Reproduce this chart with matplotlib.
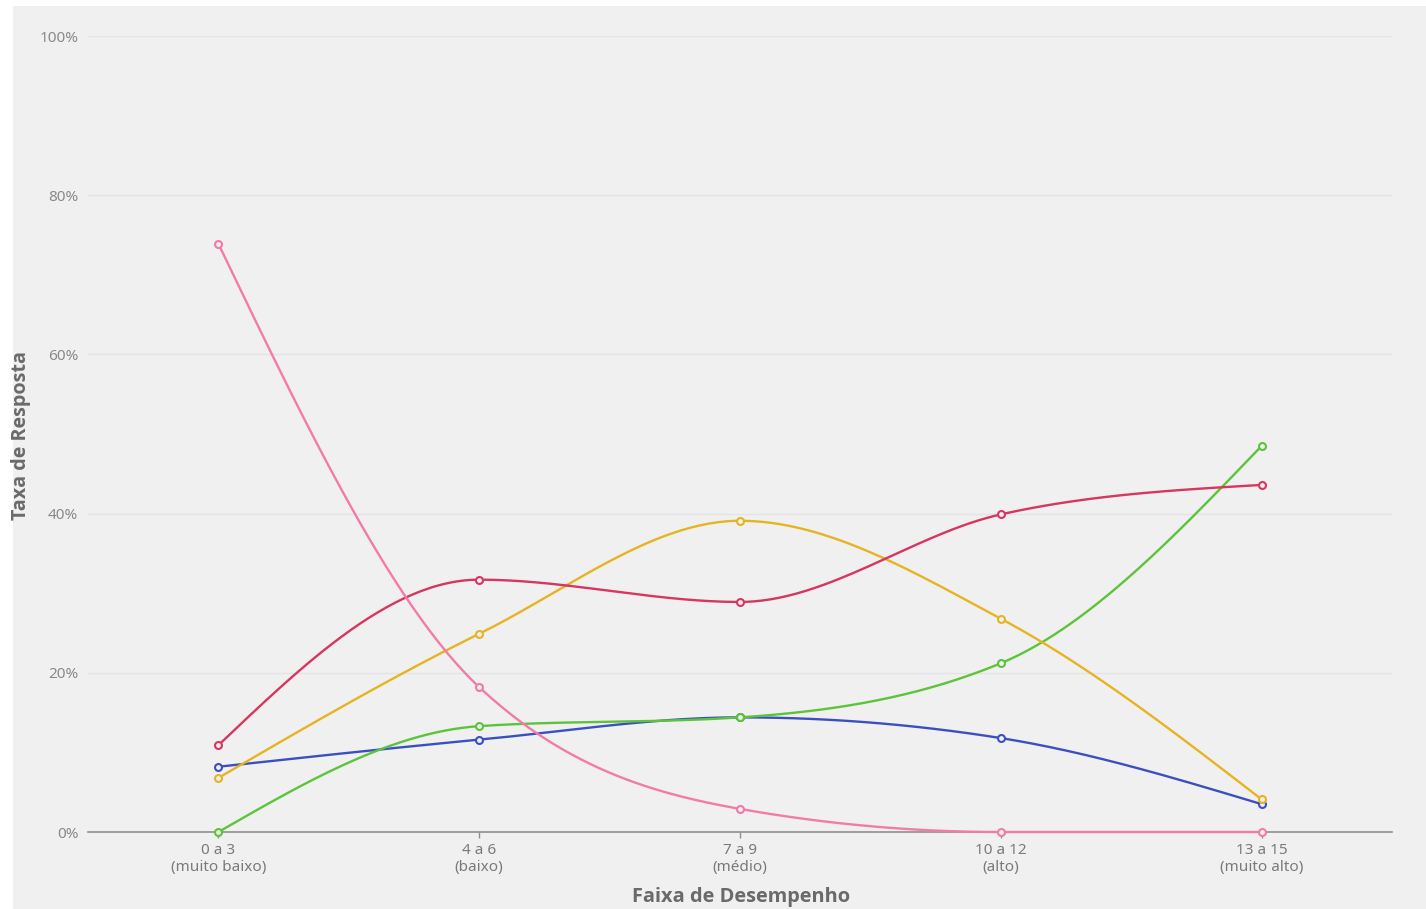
import numpy as np
import matplotlib
matplotlib.use("Agg")
import matplotlib.pyplot as plt
from matplotlib.patches import Rectangle

# Performance bands and response rates (%) per answer option
categories = ["0 a 3\n(muito baixo)", "4 a 6\n(baixo)", "7 a 9\n(médio)",
              "10 a 12\n(alto)", "13 a 15\n(muito alto)"]
pink = [73.9, 18.2, 2.9, 0.0, 0.0]
red = [10.9, 31.7, 28.9, 39.9, 43.6]
yellow = [6.8, 24.9, 39.1, 26.8, 4.1]
green = [0.0, 13.3, 14.4, 21.2, 48.5]
blue = [8.2, 11.6, 14.4, 11.8, 3.5]

y_ticks = [0, 20, 40, 60, 80, 100]

series = [
    (blue, "#3b50c0"),
    (green, "#5cc43a"),
    (yellow, "#e6b422"),
    (red, "#d6365f"),
    (pink, "#f27ba8"),
]


def monotone_curve(x, y, n=60):
    """Monotone cubic interpolation (Fritsch-Carlson style, as in d3.curveMonotoneX)."""
    x = np.asarray(x, float)
    y = np.asarray(y, float)
    m = len(x)
    h = np.diff(x)
    s = np.diff(y) / h
    t = np.zeros(m)
    for i in range(1, m - 1):
        s0, s1 = s[i - 1], s[i]
        p = (s0 * h[i] + s1 * h[i - 1]) / (h[i - 1] + h[i])
        t[i] = (np.sign(s0) + np.sign(s1)) * min(abs(s0), abs(s1), 0.5 * abs(p))
    t[0] = (3 * s[0] - t[1]) / 2
    t[-1] = (3 * s[-1] - t[-2]) / 2
    xs, ys = [], []
    for i in range(m - 1):
        dx = h[i] / 3
        p0 = (x[i], y[i])
        p1 = (x[i] + dx, y[i] + dx * t[i])
        p2 = (x[i + 1] - dx, y[i + 1] - dx * t[i + 1])
        p3 = (x[i + 1], y[i + 1])
        u = np.linspace(0, 1, n)
        bx = ((1 - u) ** 3 * p0[0] + 3 * (1 - u) ** 2 * u * p1[0]
              + 3 * (1 - u) * u ** 2 * p2[0] + u ** 3 * p3[0])
        by = ((1 - u) ** 3 * p0[1] + 3 * (1 - u) ** 2 * u * p1[1]
              + 3 * (1 - u) * u ** 2 * p2[1] + u ** 3 * p3[1])
        xs.append(bx)
        ys.append(by)
    return np.concatenate(xs), np.concatenate(ys)


plt.rcParams["font.family"] = ["Noto Sans", "DejaVu Sans"]
title_font = ["Open Sans", "DejaVu Sans"]

W, H = 1426, 909
fig = plt.figure(figsize=(W / 100, H / 100), dpi=100, facecolor="white")
bg = "#f0f0f0"
fig.patches.append(Rectangle((13 / W, 0), 1 - 13 / W, (H - 6) / H,
                             transform=fig.transFigure, facecolor=bg,
                             edgecolor="none", zorder=-10))

ax = fig.add_axes([88 / W, (H - 832) / H, (1392 - 88) / W, (832 - 36) / H])
ax.set_facecolor(bg)
ax.patch.set_alpha(0)

x = np.arange(len(categories))
for vals, color in series:
    cx, cy = monotone_curve(x, vals)
    ax.plot(cx, cy, color=color, lw=1.7, zorder=3, solid_capstyle="round",
            clip_on=False)
    ax.plot(x, vals, linestyle="none", marker="o", markersize=5,
            markerfacecolor=bg, markeredgecolor=color, markeredgewidth=1.5,
            zorder=4, clip_on=False)

ax.set_xlim(-0.5, 4.5)
ax.set_ylim(0, 100)
ax.set_yticks(y_ticks)
ax.set_yticklabels([f"{v}%" for v in y_ticks])
ax.set_xticks(x)
ax.set_xticklabels(categories, linespacing=1.15)

for v in y_ticks[1:]:
    ax.axhline(v, color="#e3e4e8", lw=1.0, zorder=1)

for side in ["top", "right", "left"]:
    ax.spines[side].set_visible(False)
ax.spines["bottom"].set_color("#8f8f8f")
ax.spines["bottom"].set_linewidth(1.2)

ax.tick_params(axis="y", length=0, pad=7, labelsize=11, labelcolor="#8a8a8a")
ax.tick_params(axis="x", length=4, width=1, color="#8f8f8f", pad=4,
               labelsize=11, labelcolor="#7a7a7a")

ax.set_xlabel("Faixa de Desempenho", fontsize=14.4, fontweight="bold",
              color="#6a6a6a", family=title_font)
ax.xaxis.set_label_coords((741 - 88) / (1392 - 88), -(897 - 832) / (832 - 36))
ax.xaxis.label.set_va("center")
ax.set_ylabel("Taxa de Resposta", fontsize=14.2, fontweight="bold",
              color="#6a6a6a", family=title_font)
ax.yaxis.set_label_coords(-(88 - 21) / (1392 - 88), (832 - 436) / (832 - 36))
ax.yaxis.label.set_va("center")

fig.savefig("out.png", dpi=100, facecolor=fig.get_facecolor())
